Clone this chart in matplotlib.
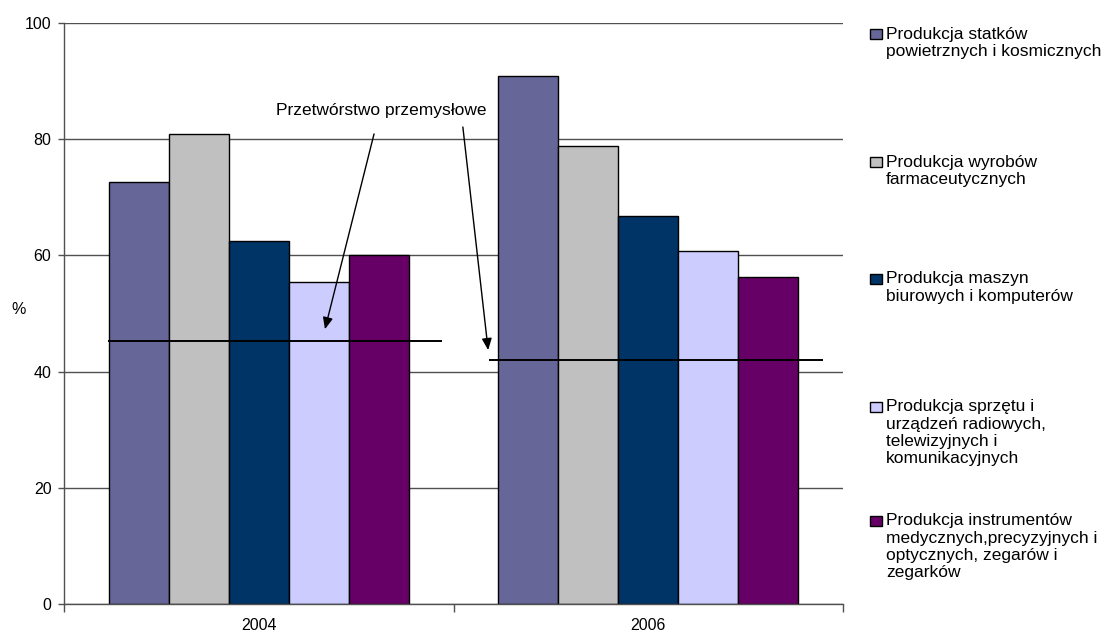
import matplotlib
matplotlib.use("Agg")
import matplotlib.pyplot as plt
import numpy as np
from matplotlib.patches import Rectangle

plt.rcParams['font.family'] = ['Liberation Sans', 'DejaVu Sans']

# Data
years = ["2004", "2006"]
industries = [
    "Produkcja statków\npowietrznych i kosmicznych",
    "Produkcja wyrobów\nfarmaceutycznych",
    "Produkcja maszyn\nbiurowych i komputerów",
    "Produkcja sprzętu i\nurządzeń radiowych,\ntelewizyjnych i\nkomunikacyjnych",
    "Produkcja instrumentów\nmedycznych,precyzyjnych i\noptycznych, zegarów i\nzegarków",
]
values_2004 = [72.6, 80.9, 62.4, 55.4, 60.1]
values_2006 = [90.8, 78.9, 66.7, 60.7, 56.2]
manufacturing = [45.2, 42.0]          # Przetwórstwo przemysłowe
manufacturing_label = "Przetwórstwo przemysłowe"
yticks = [0, 20, 40, 60, 80, 100]
colors = ["#666699", "#C0C0C0", "#003366", "#CCCCFF", "#660066"]

W, H = 1114, 634
fig = plt.figure(figsize=(W / 100, H / 100), dpi=100)
ax = fig.add_axes([64 / W, 1 - 604 / H, 779 / W, 581 / H])

series = np.array([values_2004, values_2006]).T
n = len(industries)
group = 1 / 1.3
bw = group / n
x = np.arange(len(years))
for i in range(n):
    ax.bar(x - group / 2 + bw * (i + 0.5), series[i], width=bw, color=colors[i],
           edgecolor="black", linewidth=1.0, zorder=2)

# manufacturing reference lines
line_spans = [(-0.387, 0.470), (0.591, 1.449)]
for (x0, x1), v in zip(line_spans, manufacturing):
    ax.plot([x0, x1], [v, v], color="black", lw=1.4, zorder=3, solid_capstyle="butt")

ax.set_xlim(-0.5, 1.5)
ax.set_ylim(0, 100)
ax.set_yticks(yticks)
ax.yaxis.grid(True, color="#505050", lw=1.0, zorder=0)
ax.set_axisbelow(True)
for s in ["top", "right"]:
    ax.spines[s].set_visible(False)
for s in ["left", "bottom"]:
    ax.spines[s].set_color("#505050")
    ax.spines[s].set_linewidth(1.0)

ax.set_xticks([-0.5, 0.5, 1.5])
ax.set_xticklabels([])
ax.set_xticks(x, minor=True)
ax.set_xticklabels(years, minor=True, fontsize=11.5)
ax.tick_params(axis="x", which="major", length=6, width=1.0, color="#505050")
ax.tick_params(axis="x", which="minor", length=0, pad=10)
ax.tick_params(axis="y", length=4, width=1.0, color="#505050", labelsize=11.5, pad=5)

fig.text(19 / W, 1 - 309 / H, "%", fontsize=11.5, ha="center", va="center")

# annotation with two arrows
ax.text(0.314, 85.0, manufacturing_label, fontsize=12.5, ha="center", va="center")
arrow_kw = dict(arrowstyle="-|>,head_length=0.7,head_width=0.3", color="black", lw=1.0,
                shrinkA=0, shrinkB=0)
ax.annotate("", xy=(0.170, 47.3), xytext=(0.296, 80.9), arrowprops=arrow_kw)
ax.annotate("", xy=(0.589, 43.7), xytext=(0.524, 82.1), arrowprops=arrow_kw)

# legend
centers = [34, 162, 279, 407, 521]
for lab, c, yc in zip(industries, colors, centers):
    fig.patches.append(Rectangle((870 / W, 1 - (yc + 5) / H), 12 / W, 10 / H,
                                 transform=fig.transFigure, facecolor=c,
                                 edgecolor="black", lw=1.0))
    fig.text(886 / W, 1 - (yc + 5 - 12.5) / H, lab, fontsize=12.5, ha="left", va="top",
             linespacing=1.17)

fig.savefig("out.png", dpi=100)
